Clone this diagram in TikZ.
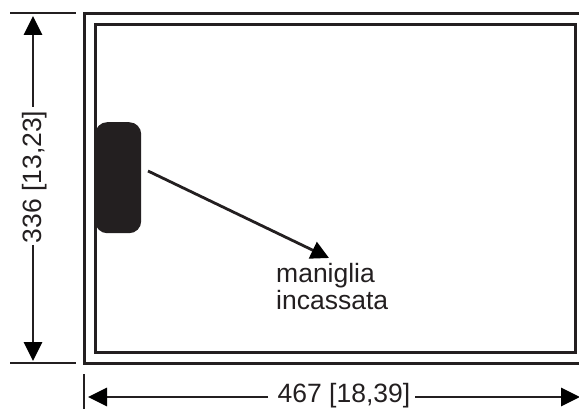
\documentclass[tikz,border=0pt]{standalone}
\usepackage{fontspec}
\setmainfont{Liberation Sans}
\usetikzlibrary{arrows.meta}
\definecolor{ink}{HTML}{231F20}
\tikzset{
  frameline/.style={draw=ink,line width=3pt},
  extline/.style={draw=ink,line width=2.8pt},
  dimline/.style={draw=ink,line width=2.8pt,-{Triangle[length=19pt,width=18pt,color=black]}},
  leaderline/.style={draw=ink,line width=2.8pt,-{Triangle[length=18pt,width=18pt,color=black]}},
  dimtext/.style={font=\fontsize{26.5}{26.5}\selectfont,text=ink,inner sep=0pt},
  labeltext/.style={font=\fontsize{26.5}{27}\selectfont,text=ink,inner sep=0pt,align=left,anchor=north west},
}
\begin{document}
\begin{tikzpicture}[x=1pt,y=-1pt]
\useasboundingbox (0,0) rectangle (579,409);
\path[clip] (0,0) rectangle (579,409);
\draw[frameline] (600,14) -- (84,14) -- (84,363) -- (600,363);
\draw[frameline] (95,25) rectangle (575,352);
\node[fill=ink,rounded corners=12pt,minimum width=46pt,minimum height=111pt,inner sep=0pt,anchor=north west] (handle) at (95,122) {};
% vertical dimension
\coordinate (vtl) at (10,13); \coordinate (vtr) at (76,13);
\coordinate (vbl) at (10,363); \coordinate (vbr) at (76,363);
\draw[extline] (vtl) -- (vtr);
\draw[extline] (vbl) -- (vbr);
\coordinate (vtop) at (33,16); \coordinate (vbot) at (33,361);
\node[dimtext,rotate=90] (vtext) at (35,177) {336 [13,23]};
\coordinate (vgapa) at (33,107); \coordinate (vgapb) at (33,245);
\draw[dimline] (vgapa) -- (vtop);
\draw[dimline] (vgapb) -- (vbot);
% horizontal dimension
\coordinate (htick1) at (84,374); \coordinate (htick2) at (84,409);
\draw[extline] (htick1) -- (htick2);
\coordinate (hleft) at (88,397); \coordinate (hright) at (580,397);
\node[dimtext] (htext) at (344,396) {467 [18,39]};
\coordinate (hgapa) at (268,397); \coordinate (hgapb) at (415,397);
\draw[dimline] (hgapa) -- (hleft);
\draw[dimline] (hgapb) -- (hright);
% leader
\coordinate (leadstart) at (148,171); \coordinate (leadtip) at (329,258);
\draw[leaderline] (leadstart) -- (leadtip);
\node[labeltext] (lab) at (276,263) {maniglia\\incassata};
\end{tikzpicture}
\end{document}
